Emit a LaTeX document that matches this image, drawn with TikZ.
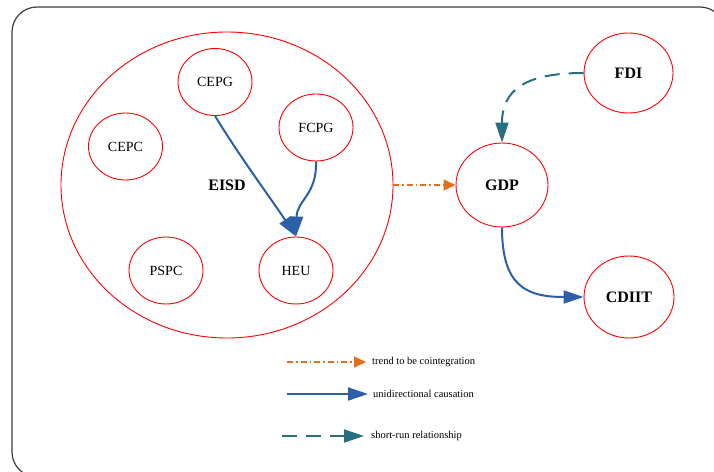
\documentclass[tikz,border=0pt]{standalone}
\usepackage{fontspec}
\setmainfont{Liberation Serif}
\usetikzlibrary{shapes.geometric,arrows.meta}
\definecolor{myblue}{RGB}{43,95,168}
\definecolor{myorange}{RGB}{226,110,30}
\definecolor{myteal}{RGB}{40,112,128}
\definecolor{bordergray}{RGB}{60,60,60}
\begin{document}
\begin{tikzpicture}[x=1pt,y=-1pt,
 ell/.style={ellipse,draw=red,line width=0.9pt,inner sep=0pt,font=\fontsize{14}{16}\selectfont},
 smallnode/.style={ell,minimum width=74pt,minimum height=67pt},
 bignode/.style={ell,minimum width=91pt,minimum height=82pt,font=\fontsize{16}{18}\selectfont\bfseries},
 causal/.style={draw=myblue,line width=2pt,-{Triangle[length=20pt,width=13pt]}},
 coint/.style={draw=myorange,line width=1.2pt,dash pattern=on 6pt off 3pt on 1.5pt off 3pt,-{Triangle[length=12pt,width=11pt]}},
 shortrun/.style={draw=myteal,line width=2pt,dash pattern=on 15pt off 9pt,-{Triangle[length=20pt,width=13pt]}},
 legtext/.style={anchor=west,font=\fontsize{10.5}{12}\selectfont,inner sep=0pt}]
\useasboundingbox (0,0) rectangle (714,471);
\clip (0,0) rectangle (714,471);
\draw[bordergray,line width=1.2pt,rounded corners=25pt] (12,7) rectangle (725,477);

% big ellipse
\node[ell,minimum width=332pt,minimum height=306pt,font=\fontsize{16}{18}\selectfont\bfseries] (eisd) at (227,185) {EISD};
\node[smallnode] (cepg) at (215,82) {CEPG};
\node[smallnode] (fcpg) at (316,127.5) {FCPG};
\node[smallnode] (cepc) at (125.5,146.5) {CEPC};
\node[smallnode] (pspc) at (166,270.5) {PSPC};
\node[smallnode] (heu) at (296,270.5) {HEU};

\node[bignode,minimum width=92pt,minimum height=84pt] (gdp) at (502,185) {GDP};
\node[bignode,minimum width=89pt,minimum height=80pt] (fdi) at (628.5,73) {FDI};
\node[bignode,minimum width=90pt,minimum height=82pt] (cdiit) at (629,297) {CDIIT};

% connectors
\draw[causal] (cepg.south) .. controls (242,160) and (272,200) .. (heu.north);
\draw[causal] (fcpg.south) .. controls (317,195) and (297,200) .. (heu.north);
\draw[coint] (eisd.east) -- (gdp.west);
\draw[shortrun] (fdi.west) .. controls (525,73) and (502,90) .. (gdp.north);
\draw[causal] (gdp.south) .. controls (502,285) and (525,297) .. (cdiit.west);

% legend
\coordinate (l1s) at (287,362);
\coordinate (l1e) at (366,362);
\node[legtext] (l1t) at (372,362) {trend to be cointegration};
\draw[coint] (l1s) -- (l1e);
\coordinate (l2s) at (287,394);
\coordinate (l2e) at (368,394);
\node[legtext] (l2t) at (373,394) {unidirectional causation};
\draw[causal] (l2s) -- (l2e);
\coordinate (l3s) at (282,436);
\coordinate (l3e) at (364,436);
\node[legtext] (l3t) at (371,436) {short-run relationship};
\draw[shortrun] (l3s) -- (l3e);
\end{tikzpicture}
\end{document}
